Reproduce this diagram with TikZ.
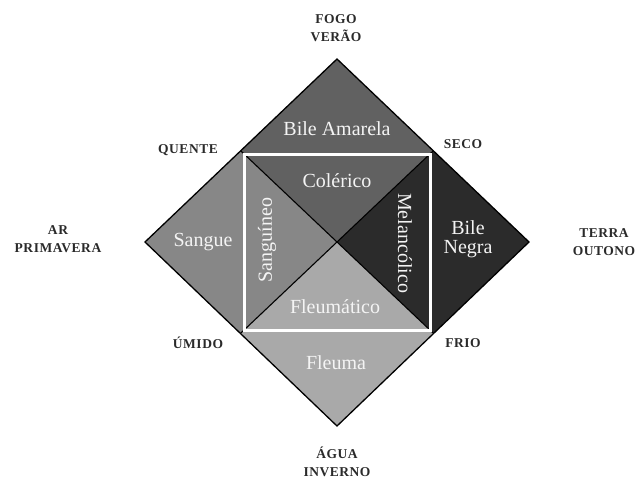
\documentclass[tikz,border=0pt]{standalone}
\usepackage{fontspec}
\setmainfont{Liberation Serif}
\definecolor{cTop}{HTML}{616161}
\definecolor{cLeft}{HTML}{878787}
\definecolor{cRight}{HTML}{2B2B2B}
\definecolor{cBot}{HTML}{A9A9A9}
\definecolor{cLabel}{HTML}{2A2A2A}
\definecolor{cText}{HTML}{F4F4F4}
\begin{document}
\begin{tikzpicture}[x=1pt,y=-1pt,
  humor/.style={text=cText, font=\fontsize{20}{19}\selectfont, inner sep=0pt, align=center},
  qual/.style={text=cLabel, font=\fontsize{13.5}{17.5}\selectfont\bfseries\addfontfeatures{LetterSpace=4}, inner sep=0pt, align=center},
]
\useasboundingbox (0,0) rectangle (643,479);
% geometry
\coordinate (C) at (337,242);
\coordinate (T) at (337,59);
\coordinate (B) at (337,426);
\coordinate (L) at (145,242);
\coordinate (R) at (529,242);
\coordinate (eTL) at (240.7,150.8);
\coordinate (eTR) at (433.3,150.8);
\coordinate (eBL) at (240.7,333.2);
\coordinate (eBR) at (433.3,333.2);
\coordinate (sqA) at (244,154);
\coordinate (sqB) at (430,330);
% regions
\fill[cTop] (T) -- (eTR) -- (C) -- (eTL) -- cycle;
\fill[cLeft] (L) -- (eTL) -- (C) -- (eBL) -- cycle;
\fill[cRight] (R) -- (eTR) -- (C) -- (eBR) -- cycle;
\fill[cBot] (B) -- (eBL) -- (C) -- (eBR) -- cycle;
\draw[black, line width=1.1] (eTL) -- (eBR) (eTR) -- (eBL);
\draw[black, line width=1.3, line join=miter] (T) -- (R) -- (B) -- (L) -- cycle;
\draw[white, line width=3] (sqA) rectangle (sqB);
% humours
\node[humor] (bam) at (337,129) {Bile Amarela};
\node[humor] (col) at (337,181) {Colérico};
\node[humor] (san) at (203,242) {Sangue};
\node[humor, rotate=90] (sgn) at (267,240) {Sanguíneo};
\node[humor, rotate=-90] (mel) at (405,243) {Melancólico};
\node[humor] (bng) at (468,239) {Bile\\Negra};
\node[humor] (flm) at (335,307) {Fleumático};
\node[humor] (fle) at (336,363) {Fleuma};
% qualities
\node[qual] (fogo) at (336,28) {FOGO\\VERÃO};
\node[qual] (quente) at (188,150) {QUENTE};
\node[qual] (seco) at (463,144) {SECO};
\node[qual] (ar) at (58,239) {AR\\PRIMAVERA};
\node[qual] (terra) at (604,242) {TERRA\\OUTONO};
\node[qual] (umido) at (198,343) {ÚMIDO};
\node[qual] (frio) at (463,343) {FRIO};
\node[qual] (agua) at (337,462) {ÁGUA\\INVERNO};
\end{tikzpicture}
\end{document}
